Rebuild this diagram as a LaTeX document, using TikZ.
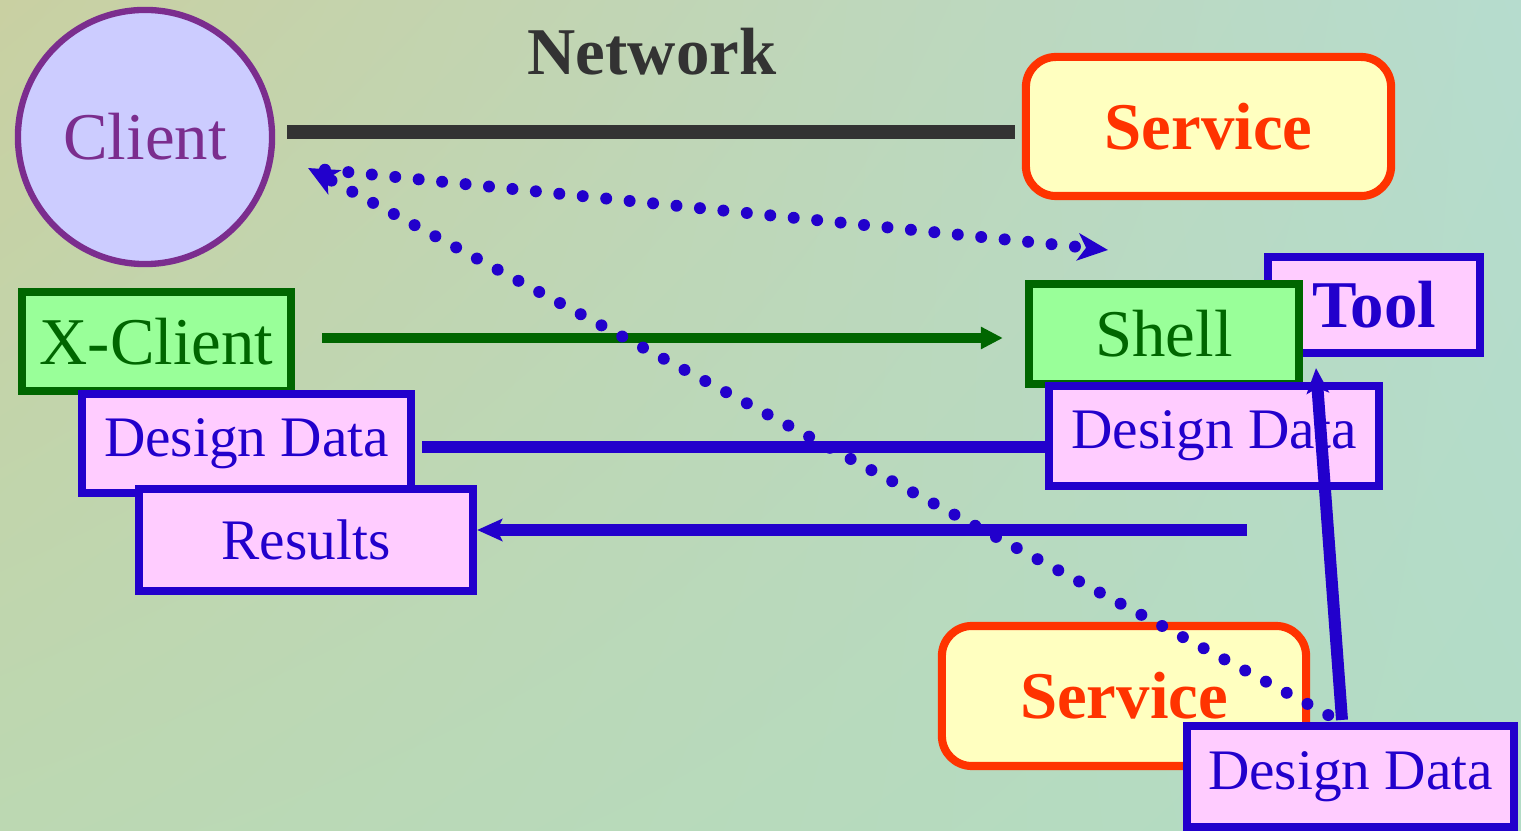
\documentclass[tikz,border=0pt]{standalone}
\usepackage{fontspec}
\setmainfont{Liberation Serif}
\usetikzlibrary{arrows.meta,calc,shadings}
\definecolor{bgUL}{HTML}{C9D0A2}
\definecolor{bgUR}{HTML}{B6DCCE}
\definecolor{bgLL}{HTML}{BCD8B2}
\definecolor{bgLR}{HTML}{B2DCC6}
\definecolor{clientfill}{HTML}{CCCCFF}
\definecolor{clientline}{HTML}{7B2D8E}
\definecolor{servline}{HTML}{FF3300}
\definecolor{servfill}{HTML}{FFFFC0}
\definecolor{grline}{HTML}{006600}
\definecolor{grfill}{HTML}{99FF99}
\definecolor{blline}{HTML}{2200CC}
\definecolor{pkfill}{HTML}{FFCCFF}
\definecolor{netgray}{HTML}{333333}
\tikzset{
  x=0.01cm, y=-0.01cm,
  bigtext/.style={font=\fontsize{19}{22}\selectfont},
  smalltext/.style={font=\fontsize{16.3}{19}\selectfont},
  servbox/.style={draw=servline, line width=2.3pt, fill=servfill, rounded corners=0.3cm,
    text=servline, font=\fontsize{19}{22}\selectfont\bfseries, inner sep=0pt},
  grbox/.style={draw=grline, line width=2.3pt, fill=grfill, text=grline, bigtext, inner sep=0pt},
  pkbox/.style={draw=blline, line width=2.3pt, fill=pkfill, text=blline, smalltext, inner sep=0pt},
  netline/.style={draw=netgray, line width=4pt},
  garrow/.style={draw=grline, line width=3pt, -{Triangle[length=0.22cm,width=0.21cm]}},
  bline/.style={draw=blline, line width=3.4pt},
  barrow/.style={draw=blline, line width=3.4pt, -{Stealth[length=0.25cm,width=0.22cm,inset=0.05cm]}},
  dotline/.style={draw=blline, line width=3.4pt, line cap=round, dash pattern=on 0pt off 6.7pt},
  dottip/.style={-{Stealth[length=0.3cm,width=0.27cm,inset=0.08cm]}},
}
\begin{document}
\begin{tikzpicture}
\useasboundingbox (0,0) rectangle (1521,831);
\shade[upper left=bgUL, upper right=bgUR, lower left=bgLL, lower right=bgLR] (0,0) rectangle (1521,831);

% nodes
\node[circle, draw=clientline, line width=1.8pt, fill=clientfill, minimum size=2.54cm,
  inner sep=0pt, text=clientline, bigtext] (client) at (145,137) {Client};
\node[text=netgray, font=\fontsize{19}{22}\selectfont\bfseries] (network) at (652,52) {Network};
\node[servbox, minimum width=3.65cm, minimum height=1.39cm] (service1) at (1208.5,126.5) {Service};

\node[pkbox, font=\fontsize{19}{22}\selectfont\bfseries, minimum width=2.12cm, minimum height=0.96cm] (tool) at (1374,305) {Tool};
\node[grbox, minimum width=2.70cm, minimum height=1.00cm] (shell) at (1164,334) {Shell};
\node[pkbox, minimum width=3.30cm, minimum height=1.00cm] (ddright) at (1214,436) {Design Data};

\node[grbox, minimum width=2.69cm, minimum height=0.99cm] (xclient) at (156.5,341.5) {X-Client};
\node[pkbox, minimum width=3.29cm, minimum height=0.99cm] (ddleft) at (246.5,443.5) {Design Data};
\node[pkbox, minimum width=3.34cm, minimum height=1.02cm] (results) at (306,540) {Results};

\node[servbox, minimum width=3.64cm, minimum height=1.40cm] (service2) at (1124,696) {Service};

% connectors
\draw[netline] ([shift={(12,-5)}]client.east) -- ([shift={(-7,5.5)}]service1.west);
\draw[garrow] ([shift={(27,-3.5)}]xclient.east) -- ([shift={(-22,4)}]shell.west);
\draw[bline] ([shift={(7,3.5)}]ddleft.east) -- ([shift={(0,11)}]ddright.west);
\coordinate (resfrom) at (1247,530);
\draw[barrow] (resfrom) -- ([shift={(0,-10)}]results.east);

\coordinate (dotL) at (308,168);
\coordinate (dotR) at (1108,250);
\coordinate (dotB) at (1330,716);
\draw[dotline, dottip, shorten <=0.17cm] (dotL) -- (dotR);
\draw[dotline, dottip, shorten <=0.02cm] (dotB) -- (dotL);

\node[pkbox, minimum width=3.27cm, minimum height=1.01cm] (ddbot) at (1350.5,776.5) {Design Data};
\draw[barrow] ([shift={(-8.5,-2)}]ddbot.north) -- ([shift={(-58,11)}]tool.south);
\end{tikzpicture}
\end{document}
